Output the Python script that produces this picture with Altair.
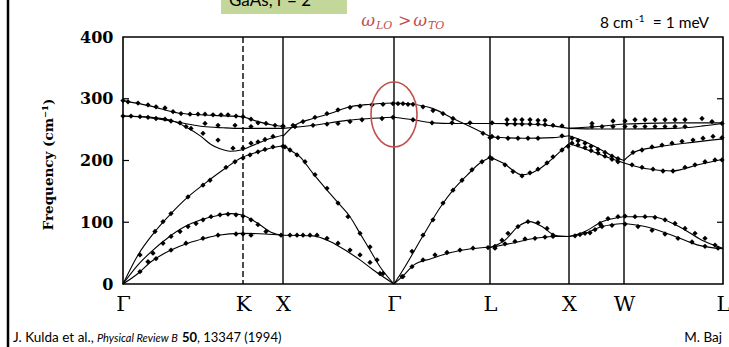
import altair as alt
import pandas as pd

# ---------------- data ----------------
SYM_K = [0, 120, 160, 271, 367, 446, 501, 600]
SYM_LABELS = ["Γ", "K", "X", "Γ", "L", "X", "W", "L"]
Y_TICKS = [0, 100, 200, 300, 400]

# dispersion curves (k position, frequency cm^-1)
GKX_1 = [(0, 297), (28, 288), (55, 277), (90, 273), (118, 271), (135, 263), (148, 258), (160, 255)]
GKX_2 = [(0, 272), (28, 269), (48, 264), (62, 260), (80, 255), (100, 253), (118, 252), (160, 252)]
GKX_3 = [(0, 272), (28, 270), (50, 264), (62, 255), (78, 239), (88, 226), (97, 219), (107, 215),
         (118, 217), (135, 228), (148, 236), (160, 241)]
GKX_LA = [(0, 0), (15, 47), (32, 85), (48, 114), (65, 141), (82, 163), (102, 187), (118, 204),
          (135, 214), (150, 221), (160, 224)]
GKX_TA1 = [(0, 0), (15, 31), (28, 52), (45, 75), (62, 93), (78, 104), (95, 111), (108, 114),
           (118, 112), (135, 98), (148, 84), (160, 79)]
GKX_TA2 = [(0, 0), (15, 17), (28, 36), (48, 55), (65, 66), (82, 74), (95, 79), (118, 82), (142, 81), (160, 79)]

XG_LO = [(160, 239), (170, 255), (190, 268), (207, 276), (227, 287), (247, 291), (271, 293)]
XG_TO = [(160, 252), (190, 257), (224, 265), (271, 270)]
XG_LA = [(160, 225), (167, 217), (177, 206), (190, 179), (204, 152), (217, 128), (227, 109),
         (237, 82), (247, 55), (257, 28), (271, 0)]
XG_TA = [(160, 79), (190, 78), (207, 69), (224, 53), (237, 39), (250, 23), (271, 0)]

GL_LO = [(271, 293), (290, 291), (310, 284), (330, 268), (347, 255), (367, 239)]
GL_TO = [(271, 270), (290, 266), (310, 261), (330, 260), (367, 260)]
GL_LA = [(271, 0), (282, 28), (300, 78), (318, 126), (330, 152), (344, 176), (357, 196), (367, 205)]
GL_TA = [(271, 0), (280, 13), (291, 31), (308, 41), (328, 51), (348, 57), (367, 60)]

LX_TO = [(367, 260), (405, 259), (430, 256), (446, 252)]
LX_LO = [(367, 238), (400, 236), (430, 237), (446, 240)]
LX_LA = [(367, 205), (381, 195), (390, 184), (398, 177), (407, 179), (415, 185), (428, 201),
         (441, 220), (446, 227)]
LX_TAU = [(367, 59), (382, 71), (395, 93), (407, 101), (419, 93), (432, 79), (446, 77)]
LX_TAL = [(367, 59), (389, 66), (412, 74), (429, 77), (446, 77)]

XW_TOA = [(446, 252), (475, 255), (501, 259)]
XW_TOB = [(446, 252), (475, 251), (501, 251)]
XW_LO = [(446, 240), (460, 232), (475, 220), (490, 207), (501, 200)]
XW_LA = [(446, 227), (460, 220), (475, 211), (490, 202), (501, 196)]
XW_TAU = [(446, 77), (462, 85), (479, 101), (501, 109)]
XW_TAL = [(446, 77), (462, 82), (479, 93), (501, 98)]

WL_TOA = [(501, 259), (550, 261), (600, 261)]
WL_TOB = [(501, 251), (550, 252), (580, 256), (600, 260)]
WL_LO = [(501, 200), (512, 214), (535, 222), (562, 228), (600, 235)]
WL_LA = [(501, 196), (522, 187), (549, 183), (575, 193), (600, 202)]
WL_TAU = [(501, 109), (529, 109), (555, 94), (579, 71), (600, 58)]
WL_TAL = [(501, 98), (522, 93), (549, 79), (575, 63), (600, 57)]

CURVES = {
    "GKX_1": GKX_1, "GKX_2": GKX_2, "GKX_3": GKX_3, "GKX_LA": GKX_LA, "GKX_TA1": GKX_TA1, "GKX_TA2": GKX_TA2,
    "XG_LO": XG_LO, "XG_TO": XG_TO, "XG_LA": XG_LA, "XG_TA": XG_TA,
    "GL_LO": GL_LO, "GL_TO": GL_TO, "GL_LA": GL_LA, "GL_TA": GL_TA,
    "LX_TO": LX_TO, "LX_LO": LX_LO, "LX_LA": LX_LA, "LX_TAU": LX_TAU, "LX_TAL": LX_TAL,
    "XW_TOA": XW_TOA, "XW_TOB": XW_TOB, "XW_LO": XW_LO, "XW_LA": XW_LA, "XW_TAU": XW_TAU, "XW_TAL": XW_TAL,
    "WL_TOA": WL_TOA, "WL_TOB": WL_TOB, "WL_LO": WL_LO, "WL_LA": WL_LA, "WL_TAU": WL_TAU, "WL_TAL": WL_TAL,
}

# measured points (neutron data)
PTS_GKX = [(0, 297), (5, 295), (15, 293), (25, 290), (33, 287), (42, 285), (50, 279), (58, 276), (67, 275),
           (75, 275), (82, 275), (90, 274), (98, 274), (105, 274), (113, 272), (120, 271), (128, 267),
           (135, 261), (143, 260), (152, 257), (160, 256),
           (0, 272), (8, 272), (17, 271), (25, 270), (33, 268), (42, 267), (48, 264), (57, 261), (63, 255),
           (68, 252), (82, 260), (95, 257), (112, 257), (128, 255),
           (80, 244), (95, 233), (110, 220), (120, 220), (128, 228), (135, 230), (142, 234), (150, 239),
           (17, 47), (32, 85), (40, 101), (48, 114), (65, 141), (80, 160), (87, 168), (103, 189), (112, 198),
           (120, 204), (127, 209), (135, 214), (142, 218), (150, 222), (160, 223),
           (30, 50), (40, 66), (48, 77), (57, 85), (65, 93), (73, 98), (80, 104), (88, 109), (97, 112),
           (105, 113), (113, 112), (120, 110), (128, 104), (135, 96), (143, 85), (158, 79),
           (17, 20), (25, 36), (33, 41), (48, 55), (63, 66), (80, 74), (95, 79), (113, 81), (120, 81), (128, 79)]
PTS_XGL = [(170, 257), (180, 263), (192, 270), (204, 276), (215, 282), (227, 286), (237, 288), (249, 290),
           (260, 291), (270, 292), (275, 292), (280, 292), (285, 291), (290, 291), (300, 287), (310, 281),
           (320, 276), (330, 268), (360, 244), (369, 239),
           (160, 255), (172, 255), (190, 257), (204, 259), (215, 260), (227, 263), (239, 266), (259, 268),
           (270, 270), (290, 266), (309, 261), (329, 261), (347, 261), (369, 261),
           (162, 222), (167, 217), (174, 209), (182, 198), (192, 177), (204, 155), (215, 131), (225, 109),
           (237, 82), (247, 60), (254, 39), (260, 17),
           (279, 12), (289, 53), (300, 79), (310, 104), (320, 131), (330, 152), (339, 168), (349, 185),
           (359, 198), (367, 205),
           (167, 79), (174, 79), (180, 79), (187, 79), (194, 79), (204, 74), (215, 66), (227, 55), (237, 47),
           (247, 35), (257, 17),
           (280, 12), (289, 28), (300, 39), (312, 47), (324, 51), (337, 55), (350, 58), (365, 59)]
PTS_LXWL = [(384, 266), (392, 266), (399, 266), (407, 266), (415, 265), (422, 265),
            (384, 259), (392, 259), (399, 259), (407, 259), (415, 259), (422, 258), (430, 257), (439, 256),
            (367, 237), (375, 237), (385, 236), (395, 236), (405, 236), (415, 236), (439, 240),
            (369, 203), (382, 193), (390, 182), (399, 175), (407, 180), (415, 186), (424, 196), (430, 206),
            (439, 217), (445, 223),
            (449, 236), (455, 232), (462, 228), (468, 223), (475, 218), (482, 213), (489, 207), (495, 203),
            (449, 228), (455, 225), (462, 221), (468, 216), (475, 212), (482, 207), (489, 202), (495, 198),
            (469, 260), (469, 255), (479, 255), (490, 264), (490, 255), (502, 264), (502, 255),
            (512, 266), (522, 266), (532, 266), (542, 266), (552, 266), (562, 266),
            (512, 255), (522, 255), (532, 255), (542, 255), (552, 255), (562, 255),
            (579, 268), (589, 263), (599, 260),
            (510, 213), (519, 217), (529, 222), (539, 225), (549, 228), (559, 231), (570, 233), (580, 236),
            (590, 239), (599, 237),
            (509, 193), (519, 189), (530, 186), (540, 183), (550, 183), (562, 189), (572, 193), (582, 198),
            (592, 201), (599, 201),
            (372, 61), (379, 71), (385, 82), (395, 93), (405, 101), (415, 99), (424, 90), (430, 79),
            (372, 58), (382, 65), (392, 69), (402, 73), (412, 74), (422, 76), (430, 77),
            (452, 78), (457, 80), (462, 82), (467, 83), (472, 88), (478, 95),
            (477, 98), (485, 106), (495, 109), (502, 110), (512, 109), (522, 109), (532, 108), (542, 104),
            (552, 98), (562, 90), (572, 82), (582, 74), (592, 63),
            (479, 93), (489, 95), (502, 97), (515, 93), (529, 87), (542, 81), (555, 74), (569, 68),
            (582, 61), (595, 58)]

# ---------------- tables ----------------
line_rows = [{"seg": name, "k": k, "f": f} for name, pts in CURVES.items() for k, f in pts]
df_lines = pd.DataFrame(line_rows)
df_pts = pd.DataFrame([{"k": k, "f": f} for k, f in PTS_GKX + PTS_XGL + PTS_LXWL])
df_sym = pd.DataFrame({"k": SYM_K[1:-1], "dash": [k == 120 for k in SYM_K[1:-1]]})
df_one = pd.DataFrame({"a": [0]})

W, H = 600, 247
OX, OY = 123, 37  # plot origin in page pixels

label_expr = "[" + ",".join("'%s'" % s for s in SYM_LABELS) + "][indexof([" + \
    ",".join(str(k) for k in SYM_K) + "], datum.value)]"

xs = alt.Scale(domain=[0, 600], nice=False, zero=False)
ys = alt.Scale(domain=[0, 400], nice=False)

x_axis = alt.Axis(values=SYM_K, labelExpr=label_expr, title=None, grid=False, domain=False, ticks=False,
                  labelFont="DejaVu Serif", labelFontSize=21, labelColor="black", labelPadding=9,
                  labelBaseline="top", labelFlush=False)
y_axis = alt.Axis(values=Y_TICKS, title="Frequency (cm⁻¹)", grid=False, domain=False, ticks=False,
                  labelFont="DejaVu Serif", labelFontWeight="bold", labelFontSize=16, labelColor="black",
                  labelPadding=10, titleFont="DejaVu Serif", titleFontWeight="bold", titleFontSize=13.5,
                  titleColor="black", titleX=48 - OX, titleY=164 - OY, titleAngle=-90,
                  titleAlign="center", titleBaseline="middle")

base_x = alt.X("k:Q", scale=xs, axis=x_axis)
base_y = alt.Y("f:Q", scale=ys, axis=y_axis)

sym_solid = alt.Chart(df_sym[~df_sym["dash"]]).mark_rule(color="black", strokeWidth=1.4).encode(
    x=alt.X("k:Q", scale=xs, axis=x_axis))
sym_dash = alt.Chart(df_sym[df_sym["dash"]]).mark_rule(color="black", strokeWidth=1.4, strokeDash=[6, 3]).encode(
    x=alt.X("k:Q", scale=xs, axis=x_axis))

lines = alt.Chart(df_lines).mark_line(color="black", strokeWidth=1.1, interpolate="monotone").encode(
    x=base_x, y=base_y, detail="seg:N")
points = alt.Chart(df_pts).mark_point(shape="diamond", filled=True, color="black", size=28, opacity=1).encode(
    x=base_x, y=base_y)

ell = alt.Chart(pd.DataFrame({"k": [271], "f": [274.5]})).mark_point(
    shape="M -0.708 0 A 0.708 1 0 1 1 0.708 0 A 0.708 1 0 1 1 -0.708 0 Z",
    size=4225, filled=False, stroke="#c0504d", strokeWidth=1.6, opacity=1).encode(x=base_x, y=base_y)

ticks_l = alt.Chart(pd.DataFrame({"f": [100, 200, 300]})).mark_rule(color="black", strokeWidth=1.2).encode(
    y=base_y, x=alt.value(0), x2=alt.value(6))
ticks_r = alt.Chart(pd.DataFrame({"f": [100, 300]})).mark_rule(color="black", strokeWidth=1.2).encode(
    y=base_y, x=alt.value(W - 6), x2=alt.value(W))

left_bar = alt.Chart(df_one).mark_rule(color="black", strokeWidth=2.5).encode(
    x=alt.value(8 - OX), y=alt.value(-OY), y2=alt.value(347 - OY))

green_box = alt.Chart(df_one).mark_rect(color="#c4d79b").encode(
    x=alt.value(221 - OX), x2=alt.value(347 - OX), y=alt.value(-OY), y2=alt.value(14 - OY))


def txt(s, px, py, size, font="Lato", color="black", align="left", style="normal", weight="normal",
        baseline="alphabetic"):
    return alt.Chart(df_one).mark_text(text=s, font=font, fontSize=size, color=color, align=align,
                                       fontStyle=style, fontWeight=weight, baseline=baseline).encode(
        x=alt.value(px - OX), y=alt.value(py - OY))


texts = [
    txt("GaAs, r = 2", 229, 6, 17),
    txt("ω", 375, 26, 17, font="DejaVu Serif", color="#c0504d", style="italic", align="right"),
    txt("LO", 376, 29, 11, font="DejaVu Serif", color="#c0504d", style="italic"),
    txt(">", 398, 26, 16, font="DejaVu Serif", color="#c0504d"),
    txt("ω", 427, 26, 17, font="DejaVu Serif", color="#c0504d", style="italic", align="right"),
    txt("TO", 428, 29, 11, font="DejaVu Serif", color="#c0504d", style="italic"),
    txt("8 cm", 600, 28, 15.5),
    txt("-1", 635, 22, 10),
    txt("= 1 meV", 709, 28, 15.5, align="right"),
    txt("J. Kulda et al., ", 13, 342, 13.5),
    txt("Physical Review B", 97, 342, 11, style="italic"),
    txt("50", 182, 342, 13, weight="bold"),
    txt(", 13347 (1994)", 197, 342, 13),
    txt("M. Baj", 722, 342, 13.5, align="right"),
]

chart = alt.layer(sym_solid, sym_dash, lines, points, ell, ticks_l, ticks_r, left_bar, green_box, *texts).properties(
    width=W, height=H, padding={"left": OX, "top": OY, "right": 729 - OX - W, "bottom": 347 - OY - H},
    autosize=alt.AutoSizeParams(type="none"), background="white"
).configure_view(stroke="black", strokeWidth=1.6)

chart.save("out.html", embed_options={"renderer": "svg", "actions": False})
